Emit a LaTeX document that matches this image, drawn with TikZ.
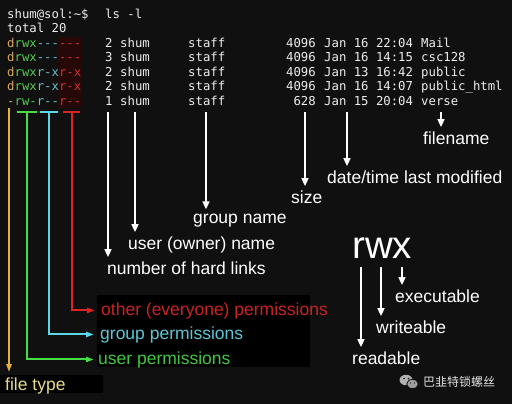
\documentclass[tikz,border=0pt]{standalone}
\usepackage{fontspec}
\setmainfont{Liberation Sans}
\setmonofont{DejaVu Sans Mono}
\newfontfamily\cjk{Noto Sans CJK SC}
\usetikzlibrary{arrows.meta}

\definecolor{bg}{HTML}{101010}
\definecolor{termwhite}{HTML}{EEEEEE}
\definecolor{permd}{HTML}{D8A860}
\definecolor{permu}{HTML}{55CC55}
\definecolor{permg}{HTML}{66C0C8}
\definecolor{permo}{HTML}{CC3333}
\definecolor{otherbg}{HTML}{260808}
\definecolor{cyellow}{HTML}{E8B040}
\definecolor{cgreen}{HTML}{44DD44}
\definecolor{ccyan}{HTML}{5AD8E8}
\definecolor{cred}{HTML}{E02222}
\definecolor{tyellow}{HTML}{E5DC8A}
\definecolor{tgreen}{HTML}{3FC83F}
\definecolor{tcyan}{HTML}{5CC6D6}
\definecolor{tred}{HTML}{CC2222}

\newcommand\permbits[4]{\textcolor{permd}{#1}\textcolor{permu}{#2}\textcolor{permg}{#3}\textcolor{permo}{#4}}

\tikzset{
  term/.style={anchor=base west, inner sep=0pt, text=termwhite, font=\ttfamily\fontsize{12.3}{14}\selectfont},
  lbl/.style={anchor=base west, inner sep=0pt, text=white, font=\fontsize{17.5}{20}\selectfont},
  warrow/.style={draw=white, line width=1.6pt, shorten >=4pt, -{Triangle[width=7pt,length=8pt]}},
  carrow/.style={line width=2pt, -{Triangle[width=5pt,length=8pt]}},
}

\begin{document}
\begin{tikzpicture}[x=1pt,y=-1pt]
\fill[bg] (0,0) rectangle (512,404);
\fill[black] (0,375) rectangle (103,393);
\fill[black] (97,295) rectangle (310,367);
\fill[otherbg] (58,37) rectangle (81,108);

% the listing
\node[term] (prompt) at (7,18.5) {shum@sol:\textasciitilde\$};
\node[term] (cmd) at (105,18.5) {ls -l};
\node[term] (total) at (7,33) {total 20};
\foreach \i/\pt/\pu/\pg/\po/\nl/\sz/\dt/\fn in {
  0/d/rwx/---/---/2/4096/Jan 16 22:04/Mail,
  1/d/rwx/---/---/3/4096/Jan 16 14:15/csc128,
  2/d/rwx/r-x/r-x/2/4096/Jan 13 16:42/public,
  3/d/rwx/r-x/r-x/2/4096/Jan 16 14:07/public\_html,
  4/-/rw-/r--/r--/1/628/Jan 15 20:04/verse}
{
  \pgfmathsetmacro\yy{47.5+14.5*\i}
  \node[term] (perm\i) at (7,\yy) {\permbits{\pt}{\pu}{\pg}{\po}};
  \node[term] (links\i) at (105,\yy) {\nl};
  \node[term] (owner\i) at (120,\yy) {shum};
  \node[term] (group\i) at (188,\yy) {staff};
  \node[term, anchor=base east] (size\i) at (316,\yy) {\sz};
  \node[term] (date\i) at (324,\yy) {\dt};
  \node[term] (name\i) at (421,\yy) {\fn};
}

% white labels
\node[lbl] (filename) at (423,144) {filename};
\node[lbl] (datetime) at (327,183) {date/time last modified};
\node[lbl] (sizelbl) at (291,203) {size};
\node[lbl] (grouplbl) at (193,223) {group name};
\node[lbl] (ownerlbl) at (128,249) {user (owner) name};
\node[lbl] (linkslbl) at (107,274) {number of hard links};

\coordinate (c-name) at (441,112);
\coordinate (c-date) at (347,112);
\coordinate (c-size) at (305,112);
\coordinate (c-group) at (206,112);
\coordinate (c-owner) at (135,112);
\coordinate (c-links) at (108,112);
\draw[warrow] (c-name) -- (c-name |- filename.north);
\draw[warrow] (c-date) -- (c-date |- datetime.north);
\draw[warrow] (c-size) -- (c-size |- sizelbl.north);
\draw[warrow] (c-group) -- (c-group |- grouplbl.north);
\draw[warrow] (c-owner) -- (c-owner |- ownerlbl.north);
\draw[warrow] (c-links) -- (c-links |- linkslbl.north);

% permission labels
\node[lbl, text=tred] (otherlbl) at (101,315) {other (everyone) permissions};
\node[lbl, text=tcyan] (grplbl) at (100,339) {group permissions};
\node[lbl, text=tgreen] (userlbl) at (98,364) {user permissions};
\node[lbl, text=tyellow] (typelbl) at (5,390) {file type};

\coordinate (u-bar) at (27,112);
\coordinate (g-bar) at (49,112);
\coordinate (o-bar) at (71.5,112);
\coordinate (t-top) at (9,108);
\draw[line width=2pt, cgreen] (17,112) -- (37,112);
\draw[line width=2pt, ccyan] (40,112) -- (58,112);
\draw[line width=2pt, cred] (63,112) -- (80,112);
\draw[carrow, cred] (o-bar) |- ([xshift=-6pt]otherlbl.west);
\draw[carrow, ccyan] (g-bar) |- ([xshift=-6pt]grplbl.west);
\draw[carrow, cgreen] (u-bar) |- ([xshift=-4pt]userlbl.west);
\draw[carrow, cyellow, shorten >=5pt] (t-top) -- (t-top |- typelbl.north);

% rwx
\node[lbl, font=\fontsize{38.5}{40}\selectfont] (rwx) at (352,258) {rwx};
\node[lbl] (execlbl) at (395,302) {executable};
\node[lbl] (writelbl) at (376,333) {writeable};
\node[lbl] (readlbl) at (352,364) {readable};
\coordinate (r-top) at (361,267);
\coordinate (w-top) at (381,267);
\coordinate (x-top) at (402,267);
\draw[warrow] (x-top) -- (x-top |- execlbl.north);
\draw[warrow] (w-top) -- (w-top |- writelbl.north);
\draw[warrow] (r-top) -- (r-top |- readlbl.north);

% watermark
\fill[gray!60] (406,380) ellipse (6.5 and 5.2);
\fill[gray!75, draw=bg, line width=0.8pt] (412.5,384) ellipse (5.8 and 4.6);
\fill[bg] (404,378.5) circle (0.9) (408.5,378.5) circle (0.9)
          (410.5,383) circle (0.7) (414.5,383) circle (0.7);
\node[anchor=base west, inner sep=0pt, text=white!88!black, font=\cjk\fontsize{12}{14}\selectfont] (mark) at (423,386.5) {巴韭特锁螺丝};
\end{tikzpicture}
\end{document}
